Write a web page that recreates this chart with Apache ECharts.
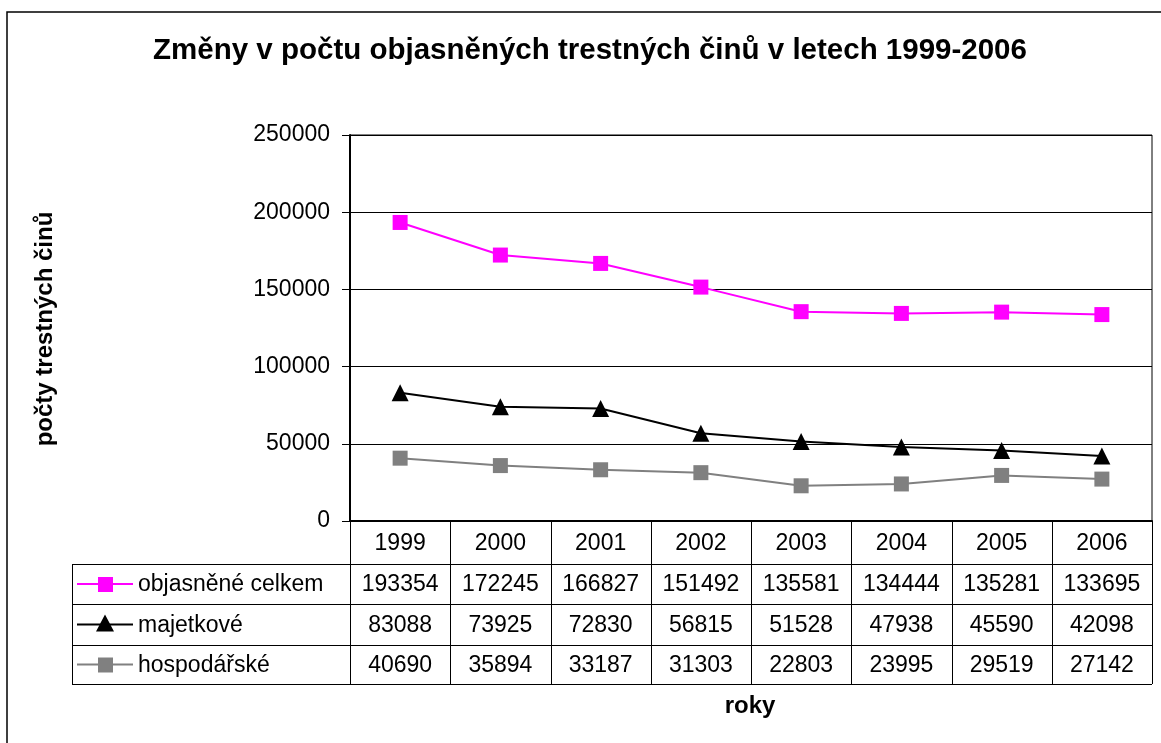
<!DOCTYPE html>
<html>
<head>
<meta charset="utf-8">
<script src="https://cdn.jsdelivr.net/npm/echarts@6/dist/echarts.min.js"></script>
<style>
html,body{margin:0;padding:0;background:#fff;}
#main{width:1161px;height:743px;}
</style>
</head>
<body>
<div id="main"></div>
<script>
var years = ['1999', '2000', '2001', '2002', '2003', '2004', '2005', '2006'];
var seriesNames = ['objasněné celkem', 'majetkové', 'hospodářské'];
var objasnene = [193354, 172245, 166827, 151492, 135581, 134444, 135281, 133695];
var majetkove = [83088, 73925, 72830, 56815, 51528, 47938, 45590, 42098];
var hospodarske = [40690, 35894, 33187, 31303, 22803, 23995, 29519, 27142];
var yTicks = [0, 50000, 100000, 150000, 200000, 250000];

var font = 'Liberation Sans, Arial, sans-serif';
var colors = ['#ff00ff', '#000000', '#808080'];
var symbols = ['rect', 'triangle', 'rect'];
var symSizes = [15, 17, 15];
var allData = [objasnene, majetkove, hospodarske];

var myChart = echarts.init(document.getElementById('main'));

var gridL = 350, gridR = 1152, gridT = 135, gridB = 521;
var rowH = [43, 40, 41, 39]; // header + 3 rows
var tableL = 72;

var option = {
    animation: false,
    backgroundColor: '#fff',
    grid: {left: gridL, right: 1161 - gridR, top: gridT, bottom: 743 - gridB, show: true, borderColor: '#000', borderWidth: 1},
    xAxis: {
        type: 'category',
        data: years,
        boundaryGap: true,
        axisLine: {lineStyle: {color: '#000', width: 2}},
        axisTick: {show: false},
        axisLabel: {show: false}
    },
    yAxis: {
        type: 'value',
        min: yTicks[0],
        max: yTicks[yTicks.length - 1],
        interval: yTicks[1] - yTicks[0],
        axisLine: {show: true, lineStyle: {color: '#000', width: 2}},
        axisTick: {show: true, length: 8, lineStyle: {color: '#000'}},
        axisLabel: {color: '#000', fontFamily: font, fontSize: 23, margin: 20,
            formatter: function (v) { return String(v); }},
        splitLine: {lineStyle: {color: '#000', width: 1}}
    },
    series: seriesNames.map(function (n, i) {
        return {
            name: n,
            type: 'line',
            data: allData[i],
            symbol: symbols[i],
            symbolSize: symSizes[i],
            showAllSymbol: true,
            itemStyle: {color: colors[i]},
            lineStyle: {color: colors[i], width: 2}
        };
    })
};
myChart.setOption(option);

// data table and texts
var g = [];
g.push({type: 'rect', shape: {x: 7, y: 12, width: 1300, height: 900}, style: {fill: null, stroke: '#000', lineWidth: 1.5}, silent: true});
g.push({type: 'text', x: 590, y: 51, style: {text: 'Změny v počtu objasněných trestných činů v letech 1999-2006', font: 'bold 29.5px ' + font, fill: '#000', align: 'center', verticalAlign: 'middle'}});
g.push({type: 'text', x: 45, y: 329, rotation: Math.PI / 2, style: {text: 'počty trestných činů', font: 'bold 24px ' + font, fill: '#000', align: 'center', verticalAlign: 'middle'}});
g.push({type: 'text', x: 750, y: 706, style: {text: 'roky', font: 'bold 24px ' + font, fill: '#000', align: 'center', verticalAlign: 'middle'}});

var rowY = [gridB];
for (var r = 0; r < rowH.length; r++) rowY.push(rowY[r] + rowH[r]);
var colW = (gridR - gridL) / years.length;
var lineStyle = {stroke: '#000', lineWidth: 1};
// vertical lines
for (var c = 0; c <= years.length; c++) {
    var x = Math.round(gridL + c * colW) + 0.5;
    g.push({type: 'line', shape: {x1: x, y1: gridB, x2: x, y2: rowY[4]}, style: lineStyle});
}
g.push({type: 'line', shape: {x1: tableL + 0.5, y1: rowY[1], x2: tableL + 0.5, y2: rowY[4]}, style: lineStyle});
// horizontal lines
for (var r2 = 1; r2 <= 4; r2++) {
    g.push({type: 'line', shape: {x1: tableL, y1: rowY[r2] + 0.5, x2: gridR, y2: rowY[r2] + 0.5}, style: lineStyle});
}
// year header
years.forEach(function (y, i) {
    var cx = myChart.convertToPixel({xAxisIndex: 0}, y);
    g.push({type: 'text', x: cx, y: (rowY[0] + rowY[1]) / 2 + 1, style: {text: y, font: '23px ' + font, fill: '#000', align: 'center', verticalAlign: 'middle'}});
});
// data rows
allData.forEach(function (arr, s) {
    var cy = (rowY[s + 1] + rowY[s + 2]) / 2 + 1;
    arr.forEach(function (v, i) {
        var cx = myChart.convertToPixel({xAxisIndex: 0}, years[i]);
        g.push({type: 'text', x: cx, y: cy, style: {text: String(v), font: '23px ' + font, fill: '#000', align: 'center', verticalAlign: 'middle'}});
    });
    // legend key
    g.push({type: 'line', shape: {x1: 77, y1: cy - 1, x2: 133, y2: cy - 1}, style: {stroke: colors[s], lineWidth: 2}});
    if (symbols[s] === 'rect') {
        g.push({type: 'rect', shape: {x: 105 - 7, y: cy - 8, width: 15, height: 15}, style: {fill: colors[s]}});
    } else {
        g.push({type: 'polygon', shape: {points: [[105, cy - 11], [114, cy + 6], [96, cy + 6]]}, style: {fill: colors[s]}});
    }
    g.push({type: 'text', x: 138, y: cy, style: {text: seriesNames[s], font: '23px ' + font, fill: '#000', align: 'left', verticalAlign: 'middle'}});
});
myChart.setOption({graphic: {elements: g}});
</script>
</body>
</html>
